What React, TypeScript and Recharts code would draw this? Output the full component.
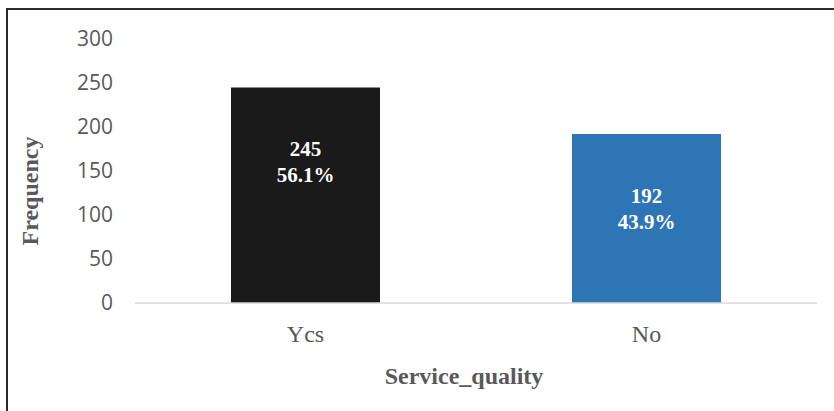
import React from "react";
import { BarChart, Bar, XAxis, YAxis, Cell, LabelList, Label } from "recharts";

const categories = ["Ycs", "No"];
const frequencies = [245, 192];
const percents = ["56.1%", "43.9%"];
const barColors = ["#1a1a1a", "#2e75b6"];
const yTicks = [0, 50, 100, 150, 200, 250, 300];

const data = categories.map((c, i) => ({ name: c, value: frequencies[i], pct: percents[i] }));

const SERIF = "'Liberation Serif', 'Times New Roman', serif";
const SANS = "'Open Sans', 'Liberation Sans', sans-serif";

const BarLabel = (props: any) => {
  const { x, y, width, index } = props;
  const cx = x + width / 2;
  return (
    <text x={cx} y={y} textAnchor="middle" fill="#ffffff" fontFamily={SERIF} fontWeight="bold" fontSize={21}>
      <tspan x={cx} y={y + 69}>{frequencies[index]}</tspan>
      <tspan x={cx} y={y + 95}>{percents[index]}</tspan>
    </text>
  );
};

const XTitle = (props: any) => {
  const { viewBox } = props;
  const cx = viewBox.x + viewBox.width / 2 - 12;
  return (
    <text x={cx} y={viewBox.y + 81} textAnchor="middle" fill="#595959" fontFamily={SERIF} fontWeight="bold" fontSize={24}>
      Service_quality
    </text>
  );
};

const YTitle = (props: any) => {
  const { viewBox } = props;
  const cy = viewBox.y + viewBox.height / 2 + 20;
  const cx = 30;
  return (
    <text
      x={cx}
      y={cy}
      textAnchor="middle"
      dominantBaseline="central"
      transform={`rotate(-90, ${cx}, ${cy})`}
      fill="#595959"
      fontFamily={SERIF}
      fontWeight="bold"
      fontSize={24}
    >
      Frequency
    </text>
  );
};

export default function App() {
  return (
    <div style={{ position: "absolute", left: 0, top: 0, width: 834, height: 411, background: "#fff" }}>
      <div
        style={{
          position: "absolute",
          left: 6,
          top: 8,
          width: 828,
          height: 403,
          borderTop: "2px solid #2b2b2b",
          borderLeft: "2px solid #2b2b2b",
          boxSizing: "border-box",
        }}
      />
      <BarChart
        width={834}
        height={411}
        data={data}
        margin={{ top: 39, right: 17, bottom: 0, left: 0 }}
        style={{ position: "absolute", left: 0, top: 0 }}
      >
        <XAxis
          dataKey="name"
          height={108}
          axisLine={{ stroke: "#d9d9d9", strokeWidth: 1.5 }}
          tickLine={false}
          tickSize={0}
          tickMargin={22}
          tick={{ fill: "#595959", fontFamily: SERIF, fontSize: 24 }}
        >
          <Label content={<XTitle />} />
        </XAxis>
        <YAxis
          width={135}
          domain={[0, 300]}
          ticks={yTicks}
          axisLine={false}
          tickLine={false}
          tickSize={0}
          tickMargin={22}
          tick={{ fill: "#595959", fontFamily: SANS, fontSize: 21 }}
        >
          <Label content={<YTitle />} />
        </YAxis>
        <Bar dataKey="value" barSize={149} isAnimationActive={false}>
          {data.map((d, i) => (
            <Cell key={d.name} fill={barColors[i]} />
          ))}
          <LabelList dataKey="value" content={<BarLabel />} />
        </Bar>
      </BarChart>
    </div>
  );
}
